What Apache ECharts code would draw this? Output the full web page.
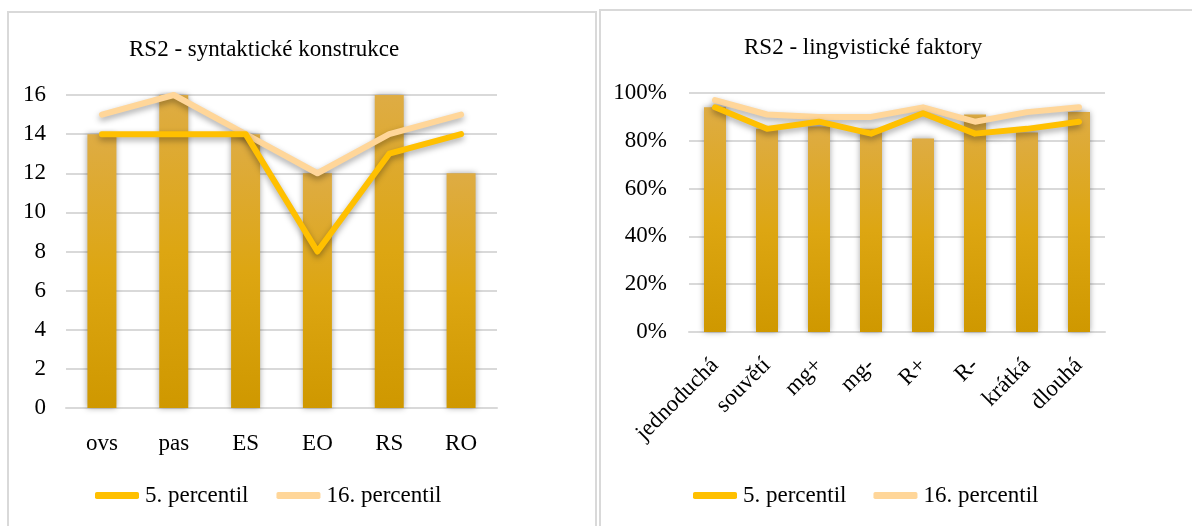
<!DOCTYPE html>
<html><head><meta charset="utf-8">
<script src="https://cdn.jsdelivr.net/npm/echarts@6/dist/echarts.min.js"></script>
<style>html,body{margin:0;padding:0;background:#fff;}#c{width:1192px;height:526px;}</style>
</head><body><div id="c"></div>
<script>
const leftTitle = 'RS2 - syntaktické konstrukce';
const rightTitle = 'RS2 - lingvistické faktory';
const leftCats = ['ovs','pas','ES','EO','RS','RO'];
const leftBars = [14,16,14,12,16,12];
const leftP5 = [14,14,14,8,13,14];
const leftP16 = [15,16,14,12,14,15];
const rightCats = ['jednoduchá','souvětí','mg+','mg-','R+','R-','krátká','dlouhá'];
const rightBars = [0.94,0.85,0.86,0.85,0.81,0.91,0.835,0.92];
const rightP5 = [0.94,0.85,0.88,0.83,0.915,0.83,0.85,0.88];
const rightP16 = [0.97,0.91,0.90,0.90,0.94,0.88,0.92,0.94];
const leftTicks = [0,2,4,6,8,10,12,14,16];
const rightTicks = ['0%','20%','40%','60%','80%','100%'];

const FONT = 'Liberation Serif';
const barColor = new echarts.graphic.LinearGradient(0,0,0,1,[
  {offset:0,color:'#DEAC44'},{offset:0.5,color:'#DDA612'},{offset:1,color:'#CF9800'}]);
const lineShadow = {shadowColor:'rgba(0,0,0,0.35)',shadowBlur:6,shadowOffsetY:3};
const barStyle = {color:barColor,shadowColor:'rgba(0,0,0,0.35)',shadowBlur:6};
const gridLine = {lineStyle:{color:'#D9D9D9',width:2}};
const axisTxt = {color:'#000',fontFamily:FONT,fontSize:23};

const chart = echarts.init(document.getElementById('c'));
chart.setOption({
  animation:false,
  textStyle:{fontFamily:FONT},
  graphic:[
    {type:'rect',shape:{x:8,y:12,width:588,height:530},style:{fill:'none',stroke:'#D9D9D9',lineWidth:2},z:-10},
    {type:'rect',shape:{x:600,y:10,width:600,height:530},style:{fill:'none',stroke:'#D9D9D9',lineWidth:2},z:-10}
  ],
  title:[
    {text:leftTitle,left:129,top:38,padding:0,textStyle:{fontFamily:FONT,fontSize:23,fontWeight:'normal',color:'#000'}},
    {text:rightTitle,left:744,top:36,padding:0,textStyle:{fontFamily:FONT,fontSize:23,fontWeight:'normal',color:'#000'}}
  ],
  legend:[
    {data:['5. percentil','16. percentil'],left:95,top:484,padding:0,itemWidth:44,itemHeight:7,itemGap:28,icon:'roundRect',
     textStyle:{fontFamily:FONT,fontSize:23,color:'#000',padding:[0,0,0,1]}},
    {data:['5. percentil','16. percentil'],left:693,top:484,padding:0,itemWidth:44,itemHeight:7,itemGap:27,icon:'roundRect',
     textStyle:{fontFamily:FONT,fontSize:23,color:'#000',padding:[0,0,0,1]}}
  ],
  grid:[
    {left:66,top:95,width:431,height:313},
    {left:689,top:93,width:416,height:239}
  ],
  xAxis:[
    {type:'category',gridIndex:0,data:leftCats,axisTick:{show:false},axisLine:{lineStyle:{color:'#D9D9D9',width:2}},
     axisLabel:Object.assign({margin:24},axisTxt)},
    {type:'category',gridIndex:1,data:rightCats,axisTick:{show:false},axisLine:{lineStyle:{color:'#D9D9D9',width:2}},
     axisLabel:Object.assign({margin:30,rotate:45},axisTxt)}
  ],
  yAxis:[
    {type:'value',gridIndex:0,min:0,max:16,interval:2,splitLine:gridLine,axisLine:{show:false},axisTick:{show:false},
     axisLabel:Object.assign({margin:20,formatter:v=>String(leftTicks[v/2])},axisTxt)},
    {type:'value',gridIndex:1,min:0,max:1,interval:0.2,splitLine:gridLine,axisLine:{show:false},axisTick:{show:false},
     axisLabel:Object.assign({margin:22,formatter:v=>rightTicks[Math.round(v*5)]},axisTxt)}
  ],
  series:[
    {name:'hodnota',type:'bar',xAxisIndex:0,yAxisIndex:0,data:leftBars,barWidth:29,itemStyle:barStyle},
    {name:'5. percentil',type:'line',xAxisIndex:0,yAxisIndex:0,data:leftP5,showSymbol:false,symbol:'none',
     color:'#FFC000',lineStyle:Object.assign({color:'#FFC000',width:6,cap:'round',join:'round'},lineShadow),z:5},
    {name:'16. percentil',type:'line',xAxisIndex:0,yAxisIndex:0,data:leftP16,showSymbol:false,symbol:'none',
     color:'#FFD699',lineStyle:Object.assign({color:'#FFD699',width:6,cap:'round',join:'round'},lineShadow),z:4},
    {name:'hodnota',type:'bar',xAxisIndex:1,yAxisIndex:1,data:rightBars,barWidth:22,itemStyle:barStyle},
    {name:'5. percentil',type:'line',xAxisIndex:1,yAxisIndex:1,data:rightP5,showSymbol:false,symbol:'none',
     color:'#FFC000',lineStyle:Object.assign({color:'#FFC000',width:6,cap:'round',join:'round'},lineShadow),z:5},
    {name:'16. percentil',type:'line',xAxisIndex:1,yAxisIndex:1,data:rightP16,showSymbol:false,symbol:'none',
     color:'#FFD699',lineStyle:Object.assign({color:'#FFD699',width:6,cap:'round',join:'round'},lineShadow),z:4}
  ]
});
</script></body></html>
